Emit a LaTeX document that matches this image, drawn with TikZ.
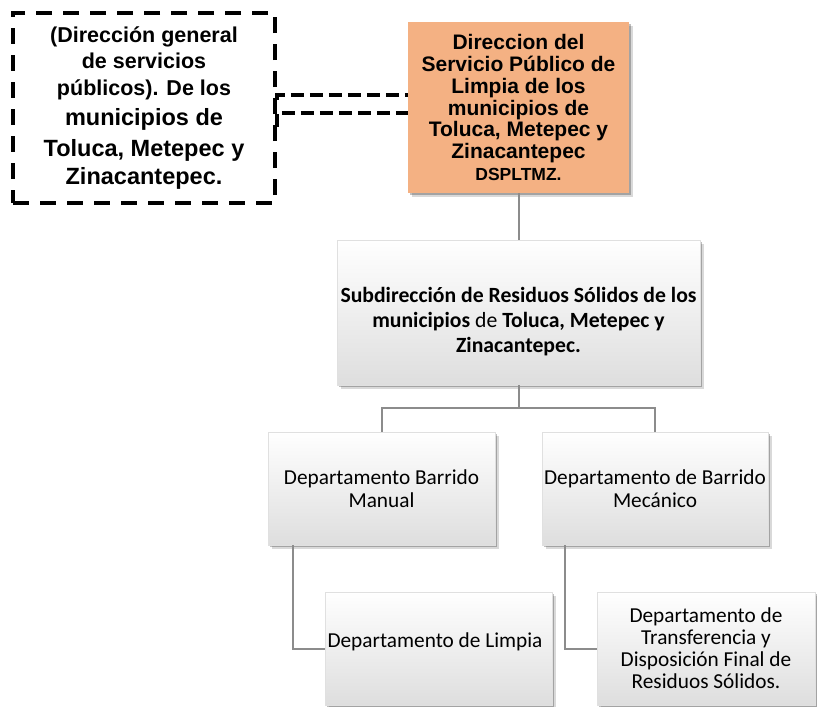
\documentclass[tikz,border=0pt]{standalone}
\usepackage{fontspec}
\setmainfont{Liberation Sans}
\newfontfamily\calib{Carlito}
\usetikzlibrary{shadows}
\definecolor{orangefill}{RGB}{244,177,131}
\definecolor{connc}{RGB}{140,140,140}
\begin{document}
\begin{tikzpicture}[x=1pt,y=1pt,
  shd/.style={drop shadow={shadow xshift=2pt, shadow yshift=-2pt, opacity=0.25, fill=black},
              drop shadow={shadow xshift=4pt, shadow yshift=-4pt, opacity=0.15, fill=black}},
  graybox/.style={shd, draw=black!12, line width=0.4pt, top color=white, bottom color=black!13,
                  inner sep=0pt, align=center},
  orangebox/.style={shd, fill=orangefill, inner sep=0pt, align=center},
  dashbox/.style={draw=black, line width=3.5pt, dash pattern=on 16pt off 11pt, inner sep=0pt, align=center},
  conn/.style={draw=connc, line width=2pt},
  dconn/.style={draw=black, line width=3.5pt, dash pattern=on 13pt off 6pt},
  txt/.style={inner sep=0pt, align=center}
]
\useasboundingbox (0,0) rectangle (817,-707);

% dashed box
\node[dashbox, minimum width=262, minimum height=190,
      font=\bfseries\fontsize{21.5}{26.5}\selectfont] (gen) at (144,-108)
  {(Dirección general\\de servicios\\públicos). De los\\[4pt]
   {\fontsize{23.5}{28}\selectfont municipios de}\\[4pt]
   {\fontsize{23.5}{28}\selectfont Toluca, Metepec y}\\[2pt]
   {\fontsize{23.5}{28}\selectfont Zinacantepec.}};

% orange box
\node[orangebox, minimum width=221, minimum height=171,
      font=\bfseries\fontsize{21}{21.7}\selectfont] (dir) at (518.5,-107.5)
  {Direccion del\\Servicio Público de\\Limpia de los\\municipios de\\Toluca, Metepec y\\Zinacantepec\\
   {\fontsize{17.5}{20}\selectfont DSPLTMZ.}};

% subdireccion
\node[graybox, minimum width=363, minimum height=145] (sub) at (518.5,-312.5) {};
\node[txt, font=\calib\bfseries\fontsize{21.7}{25}\selectfont] (subT) at (518.5,-322)
  {Subdirección de Residuos Sólidos de los\\municipios {\mdseries de} Toluca, Metepec y\\Zinacantepec.};

% departments
\node[graybox, minimum width=227, minimum height=113,
      font=\calib\fontsize{21.3}{23}\selectfont] (man) at (381.5,-488.5)
  {Departamento Barrido\\Manual};
\node[graybox, minimum width=226, minimum height=113,
      font=\calib\fontsize{21.3}{23}\selectfont] (mec) at (655,-488.5)
  {Departamento de Barrido\\Mecánico};
\node[graybox, minimum width=227, minimum height=113] (lim) at (438.5,-648.5) {};
\node[txt, font=\calib\fontsize{21.3}{23}\selectfont] (limT) at (435,-642)
  {Departamento de Limpia};
\node[graybox, minimum width=218, minimum height=113,
      font=\calib\fontsize{21.3}{22}\selectfont] (tra) at (706,-648.5)
  {Departamento de\\Transferencia y\\Disposición Final de\\Residuos Sólidos.};

% connectors
\coordinate (bus) at (sub.south |- 0,-408);
\draw[conn] (dir.south) -- (dir.south |- sub.north);
\draw[conn] (sub.south) -- (bus);
\draw[conn] (man.north) |- (bus) -| (mec.north);
\draw[conn] (man.south -| 293,0) |- (lim.west);
\draw[conn] (mec.south -| 565,0) |- (tra.west);

% dashed connectors
\draw[dconn] (gen.east |- 0,-100) |- (dir.west |- 0,-95);
\draw[dconn] (gen.east |- 0,-127) |- (dir.west |- 0,-113);
\end{tikzpicture}
\end{document}
